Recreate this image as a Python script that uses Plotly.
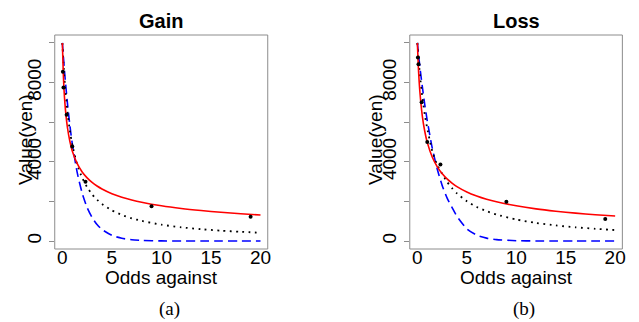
import plotly.graph_objects as go

# observed points (odds against, value in yen)
odds_pts = [0.053, 0.111, 0.429, 1.0, 2.333, 9.0, 19.0]
gain_obs = [8540, 7750, 6380, 4775, 3000, 1755, 1230]
loss_obs = [9270, 8930, 7000, 5000, 3870, 1990, 1114]

# fitted curves
odds_curve = [0, 0.1, 0.25, 0.5, 0.75, 1, 1.5, 2, 2.5, 3, 3.5, 4, 5, 6, 7, 8, 10, 12, 14, 16, 18, 20]
gain_red = [10000, 8370, 7000, 5770, 5050, 4550, 3910, 3490, 3190, 2960, 2780, 2630, 2390, 2215, 2075, 1960, 1780, 1645, 1540, 1455, 1380, 1316]
gain_dot = [10000, 9060, 7930, 6560, 5590, 4860, 3860, 3190, 2720, 2360, 2090, 1875, 1550, 1320, 1150, 1020, 826, 694, 598, 525, 468, 420]
gain_blue = [10000, 9320, 8370, 7010, 5870, 4920, 3450, 2420, 1690, 1190, 833, 584, 287, 141, 69, 34, 8, 2, 0, 0, 0, 0]
loss_red = [10000, 8760, 7550, 6310, 5530, 4980, 4240, 3760, 3410, 3140, 2930, 2750, 2480, 2275, 2110, 1980, 1780, 1627, 1508, 1410, 1330, 1266]
loss_dot = [10000, 9300, 8420, 7260, 6380, 5680, 4550, 3850, 3400, 2990, 2670, 2410, 2010, 1720, 1510, 1340, 1090, 917, 790, 695, 619, 557]
loss_blue = [10000, 9500, 8800, 7790, 6880, 6070, 4700, 3650, 2820, 2180, 1700, 1250, 620, 300, 150, 75, 20, 5, 0, 0, 0, 0]

panel_titles = ["Gain", "Loss"]
captions = ["(a)", "(b)"]
x_ticks = [0, 5, 10, 15, 20]
y_ticks = [0, 2000, 4000, 6000, 8000, 10000]
y_ticktext = ["0", "", "4000", "", "8000", ""]

W, H = 639, 322
FONT = "Liberation Sans, Arial, sans-serif"
GRAY = "#8c8c8c"

boxes = [(55, 269), (411.7, 625.3)]
top, bottom = 35, 249

fig = go.Figure()

panels = [(gain_red, gain_dot, gain_blue, gain_obs), (loss_red, loss_dot, loss_blue, loss_obs)]
for i, (red, dot, blue, obs) in enumerate(panels):
    xa = "x" if i == 0 else "x2"
    ya = "y" if i == 0 else "y2"
    fig.add_trace(go.Scatter(x=odds_curve, y=blue, mode="lines", xaxis=xa, yaxis=ya,
                             line=dict(color="#0000FF", width=1.6, dash="9px,5px", shape="spline", smoothing=0.6),
                             showlegend=False))
    fig.add_trace(go.Scatter(x=odds_curve, y=dot, mode="lines", xaxis=xa, yaxis=ya,
                             line=dict(color="black", width=1.8, dash="1.8px,4.5px", shape="spline", smoothing=0.6),
                             showlegend=False))
    fig.add_trace(go.Scatter(x=odds_curve, y=red, mode="lines", xaxis=xa, yaxis=ya,
                             line=dict(color="#FF0000", width=1.6, shape="spline", smoothing=0.6),
                             showlegend=False))
    fig.add_trace(go.Scatter(x=odds_pts, y=obs, mode="markers", xaxis=xa, yaxis=ya,
                             marker=dict(color="black", size=4),
                             showlegend=False))

xlab_shift = 5  # px: tick labels sit close under the box
axis_common_x = dict(range=[-0.77, 20.73], showline=False,
                     ticks="", tickvals=x_ticks, tickfont=dict(family=FONT, size=19, color="black"),
                     showgrid=False, zeroline=False, anchor="free",
                     position=(H - bottom + xlab_shift) / H)
axis_common_y = dict(range=[-400, 10400], showline=False,
                     ticks="outside", ticklen=5, tickcolor=GRAY, tickvals=y_ticks, ticktext=y_ticktext,
                     tickangle=-90, tickfont=dict(family=FONT, size=19, color="black"),
                     showgrid=False, zeroline=False,
                     domain=[(H - bottom) / H, (H - top) / H])

fig.update_layout(
    width=W, height=H, margin=dict(l=0, r=0, t=0, b=0),
    paper_bgcolor="white", plot_bgcolor="white",
    xaxis=dict(domain=[boxes[0][0] / W, boxes[0][1] / W], **axis_common_x),
    yaxis=dict(anchor="x", **axis_common_y),
    xaxis2=dict(domain=[boxes[1][0] / W, boxes[1][1] / W], **axis_common_x),
    yaxis2=dict(anchor="x2", **axis_common_y),
)

shapes = []
for (l, r) in boxes:
    shapes.append(dict(type="rect", xref="paper", yref="paper",
                       x0=l / W, x1=r / W, y0=(H - bottom) / H, y1=(H - top) / H,
                       line=dict(color=GRAY, width=1), fillcolor="rgba(0,0,0,0)", layer="above"))
fig.update_layout(shapes=shapes)

ann = []
ylab_x = [25, 376.7]
for i, (l, r) in enumerate(boxes):
    cx = (l + r) / 2
    ann.append(dict(text="<b>%s</b>" % panel_titles[i], x=cx / W, y=(H - 21) / H, xref="paper", yref="paper",
                    showarrow=False, xanchor="center", yanchor="middle",
                    font=dict(family=FONT, size=20, color="black")))
    ann.append(dict(text="Odds against", x=cx / W, y=(H - 277) / H, xref="paper", yref="paper",
                    showarrow=False, xanchor="center", yanchor="middle",
                    font=dict(family=FONT, size=19, color="black")))
    ann.append(dict(text="Value(yen)", x=ylab_x[i] / W, y=(H - 140) / H, xref="paper", yref="paper",
                    showarrow=False, xanchor="center", yanchor="middle", textangle=-90,
                    font=dict(family=FONT, size=19, color="black")))
    ann.append(dict(text=captions[i], x=(cx + 8) / W, y=(H - 309) / H, xref="paper", yref="paper",
                    showarrow=False, xanchor="center", yanchor="middle",
                    font=dict(family="Liberation Serif, Times New Roman, serif", size=19, color="black")))
fig.update_layout(annotations=ann)

fig.write_html("out.html", config={"displayModeBar": False},
               post_script="document.body.style.margin='0px';")
